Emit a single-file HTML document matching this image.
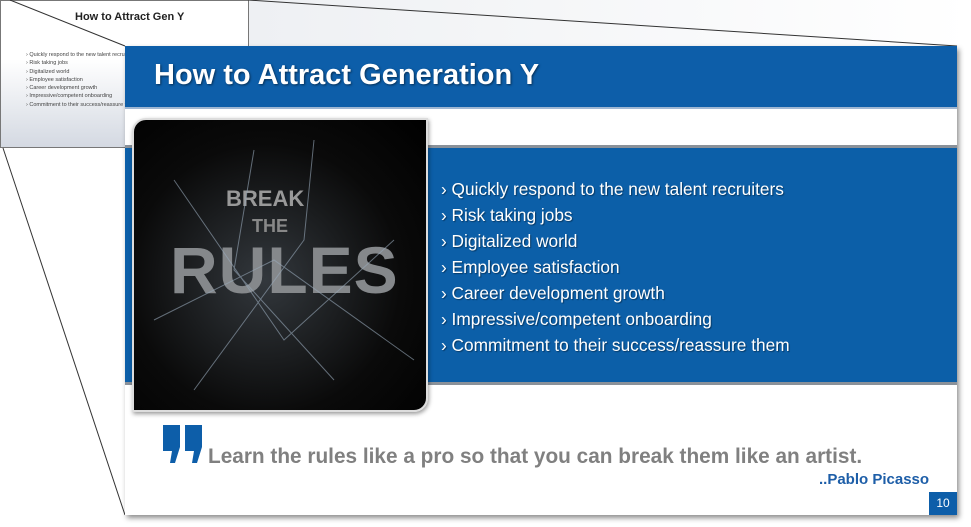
<!DOCTYPE html>
<html><head><meta charset="utf-8"><style>
body{margin:0;width:971px;height:527px;background:#fff;position:relative;overflow:hidden;font-family:"Liberation Sans",sans-serif}
.a{position:absolute}
</style></head><body>
<div class="a" style="left:248px;top:0;width:723px;height:46px;background:linear-gradient(90deg,#eef0f3,#fff)"></div>
<div class="a" style="left:0;top:0;width:249px;height:148px;background:linear-gradient(#fff 40%,#d4d9e2);border:1px solid #777;box-sizing:border-box">
<div class="a" style="left:74px;top:10px;font-size:11px;font-weight:bold;color:#222">How to Attract Gen Y</div>
<div class="a" style="left:25px;top:50px;font-size:5.5px;line-height:8.3px;color:#444;white-space:nowrap">› Quickly respond to the new talent recruiters<br>› Risk taking jobs<br>› Digitalized world<br>› Employee satisfaction<br>› Career development growth<br>› Impressive/competent onboarding<br>› Commitment to their success/reassure them</div>
</div>
<svg class="a" style="left:0;top:0" width="971" height="527">
<line x1="10" y1="0" x2="125" y2="46" stroke="#333" stroke-width="1"/>
<line x1="248" y1="0" x2="957" y2="46" stroke="#333" stroke-width="1"/>
<line x1="3" y1="148" x2="125" y2="515" stroke="#333" stroke-width="1"/>
</svg>
<div class="a" style="left:125px;top:46px;width:832px;height:469px;background:#fff;box-shadow:2px 3px 5px rgba(0,0,0,.45)">
<div class="a" style="left:0;top:0;width:832px;height:61px;background:#0d5ea9;border-bottom:2px solid #9fb7d3"></div>
<div class="a" style="left:29px;top:13px;font-size:29px;font-weight:bold;color:#fff;text-shadow:1px 1px 2px rgba(0,0,0,.5)">How to Attract Generation Y</div>
<div class="a" style="left:0;top:99px;width:832px;height:240px;background:#0c5fa8;border-top:3px solid #8a9199;border-bottom:3px solid #8a9199;box-sizing:border-box"></div>
<ul class="a" style="left:316px;top:130px;margin:0;padding:0;list-style:none;font-size:17.3px;line-height:26px;color:#fff;text-shadow:1px 1px 1px rgba(0,0,0,.4)">
<li>› Quickly respond to the new talent recruiters</li>
<li>› Risk taking jobs</li>
<li>› Digitalized world</li>
<li>› Employee satisfaction</li>
<li>› Career development growth</li>
<li>› Impressive/competent onboarding</li>
<li>› Commitment to their success/reassure them</li>
</ul>
<div class="a" style="left:7px;top:72px;width:296px;height:294px;background:radial-gradient(circle at 45% 55%,#33383d,#0a0a0a 60%,#000);border-radius:14px 0 14px 0;border:2px solid #ddd;box-sizing:border-box;overflow:hidden;box-shadow:1px 2px 4px rgba(0,0,0,.4)">
<div class="a" style="left:92px;top:66px;font-size:22px;font-weight:bold;color:#999">BREAK</div>
<div class="a" style="left:118px;top:96px;font-size:18px;font-weight:bold;color:#888">THE</div>
<div class="a" style="left:36px;top:112px;font-size:66px;font-weight:bold;color:#85888b;letter-spacing:1px">RULES</div>
<svg class="a" style="left:0;top:0" width="296" height="294"><g stroke="#9ab" stroke-width="1" fill="none" opacity=".6"><path d="M40,60 L150,220 L260,120"/><path d="M120,30 L100,150 L200,260"/><path d="M20,200 L140,140 L280,240"/><path d="M180,20 L170,120 L60,270"/></g></svg>
</div>
<svg class="a" style="left:38px;top:379px" width="42" height="40"><g fill="#0d5ea9"><path d="M0,0 H17 V22 L12,38 L7,38 L9,26 H0 Z"/><path d="M22,0 H39 V22 L34,38 L29,38 L31,26 H22 Z"/></g></svg>
<div class="a" style="left:83px;top:399px;font-size:20.8px;font-weight:bold;color:#808080;white-space:nowrap">Learn the rules like a pro so that you can break them like an artist.</div>
<div class="a" style="left:694px;top:425px;font-size:15px;font-weight:bold;color:#1d5ea8">..Pablo Picasso</div>
<div class="a" style="left:804px;top:446px;width:28px;height:23px;background:#0d5ea9;color:#fff;font-size:12px;line-height:23px;text-align:center">10</div>
</div>
</body></html>
